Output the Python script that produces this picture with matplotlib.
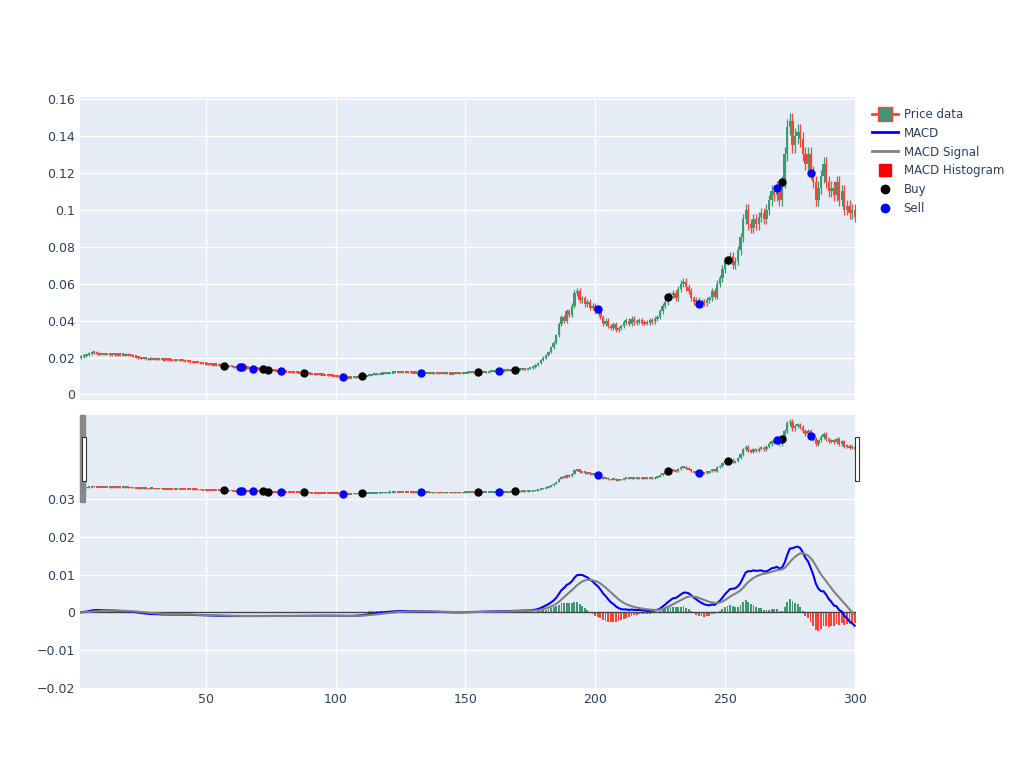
import numpy as np
import pandas as pd
import matplotlib.pyplot as plt
from matplotlib.lines import Line2D

# ---------------- DATA ----------------
close = [
    .0200, .0205, .0210, .0215, .0222, .0230, .0228, .0222, .0218, .0220,
    .0218, .0220, .0216, .0219, .0217, .0215, .0218, .0214, .0216, .0213,
    .0212, .0208, .0203, .0199, .0197, .0198, .0194, .0193, .0195, .0192,
    .0191, .0193, .0190, .0189, .0191, .0188, .0187, .0186, .0188, .0185,
    .0184, .0182, .0180, .0178, .0176, .0175, .0173, .0170, .0168, .0167,
    .0166, .0164, .0161, .0163, .0160, .0158, .0155, .0153, .0154, .0151,
    .0149, .0152, .0148, .0146, .0147, .0144, .0142, .0140, .0141, .0139,
    .0138, .0137, .0136, .0134, .0133, .0131, .0129, .0128, .0127, .0125,
    .0124, .0123, .0121, .0120, .0119, .0118, .0116, .0115, .0114, .0113,
    .0112, .0111, .0110, .0109, .0108, .0106, .0105, .0103, .0102, .0100,
    .0098, .0096, .0094, .0092, .0091, .0093, .0095, .0094, .0096, .0098,
    .0101, .0103, .0106, .0108, .0110, .0112, .0113, .0115, .0116, .0117,
    .0118, .0119, .0120, .0119, .0121, .0120, .0119, .0121, .0120, .0118,
    .0119, .0120, .0118, .0117, .0118, .0116, .0117, .0115, .0116, .0114,
    .0115, .0116, .0114, .0113, .0115, .0114, .0116, .0115, .0117, .0118,
    .0119, .0121, .0120, .0122, .0121, .0123, .0124, .0122, .0125, .0126,
    .0127, .0125, .0128, .0129, .0131, .0130, .0132, .0133, .0135, .0134,
    .0136, .0138, .0137, .0140, .0143, .0150, .0158, .0170, .0185, .0200,
    .0215, .0230, .0255, .0280, .0320, .0380, .0420, .0400, .0450, .0430,
    .0480, .0550, .0560, .0510, .0520, .0490, .0500, .0470, .0480, .0450,
    .0460, .0420, .0380, .0400, .0370, .0360, .0380, .0350, .0360, .0370,
    .0390, .0400, .0380, .0410, .0390, .0395, .0400, .0390, .0385, .0390,
    .0400, .0395, .0410, .0420, .0450, .0480, .0500, .0530, .0540, .0550,
    .0520, .0570, .0600, .0610, .0580, .0560, .0520, .0500, .0510, .0490,
    .0500, .0495, .0510, .0520, .0560, .0530, .0600, .0630, .0680, .0720,
    .0730, .0750, .0700, .0720, .0780, .0850, .0950, .1000, .0920, .0900,
    .0950, .0920, .0960, .0980, .0950, .1000, .1050, .1100, .1080, .1120,
    .1050, .1150, .1300, .1450, .1480, .1350, .1400, .1420, .1380, .1300,
    .1250, .1300, .1200, .1150, .1050, .1120, .1180, .1250, .1150, .1100,
    .1120, .1080, .1150, .1050, .1100, .1000, .1020, .0980, .1000, .0960,
]
buy_idx = [57, 72, 74, 88, 110, 155, 169, 228, 251, 272]
sell_idx = [63, 64, 68, 79, 103, 133, 163, 201, 240, 270, 283]
# --------------------------------------

BG = "#E5ECF6"
UP = "#3D9970"
DOWN = "#FF4136"
TXT = "#2a3f5f"

df = pd.DataFrame({"close": close}, index=np.arange(1, len(close) + 1))
df["open"] = df["close"].shift(1).fillna(df["close"].iloc[0])
ema12 = df["close"].ewm(span=12, adjust=False).mean()
ema26 = df["close"].ewm(span=26, adjust=False).mean()
df["macd"] = ema12 - ema26
df["signal"] = df["macd"].ewm(span=9, adjust=False).mean()
df["hist"] = df["macd"] - df["signal"]


def style(ax):
    ax.set_facecolor(BG)
    for s in ax.spines.values():
        s.set_visible(False)
    ax.grid(True, color="white", linewidth=1)
    ax.set_axisbelow(True)
    ax.tick_params(length=0, labelsize=9, colors=TXT)


def candles(ax, minh):
    up = df["close"] >= df["open"]
    for mask, col in ((up, UP), (~up, DOWN)):
        d = df[mask]
        lo = np.minimum(d["open"], d["close"])
        hi = np.maximum(d["open"], d["close"])
        h = np.maximum(hi - lo, minh)
        mid = (hi + lo) / 2
        ax.vlines(d.index, lo * 0.97, hi * 1.03, color=col, linewidth=0.9)
        ax.bar(d.index, h, bottom=mid - h / 2, width=0.9, color=col, linewidth=0)


fig = plt.figure(figsize=(10.24, 7.68), dpi=100)
ax1 = fig.add_axes([80 / 1024, 1 - 400 / 768, 776 / 1024, 303 / 768])
ax2 = fig.add_axes([80 / 1024, 1 - 688 / 768, 776 / 1024, 273 / 768])
style(ax1)
style(ax2)

# price panel
candles(ax1, 0.0012)
ax1.plot(buy_idx, df.loc[buy_idx, "close"], "o", color="black", ms=5, zorder=5)
ax1.plot(sell_idx, df.loc[sell_idx, "close"], "o", color="blue", ms=5, zorder=5)
ax1.set_xlim(1.5, 300.5)
ax1.set_ylim(-0.003, 0.161)
ax1.set_xticks([50, 100, 150, 200, 250, 300])
ax1.set_xticklabels([])
ax1.set_yticks([0, 0.02, 0.04, 0.06, 0.08, 0.1, 0.12, 0.14, 0.16])
ax1.set_yticklabels(["0", "0.02", "0.04", "0.06", "0.08", "0.1", "0.12", "0.14", "0.16"])

# MACD panel
hcol = np.where(df["hist"] >= 0, UP, DOWN)
ax2.bar(df.index, df["hist"], width=0.7, color=hcol, linewidth=0)
ax2.axhline(0, color="#444444", linewidth=1, zorder=1)
ax2.plot(df.index, df["macd"], color="blue", linewidth=1.5)
ax2.plot(df.index, df["signal"], color="grey", linewidth=1.5)
ax2.set_xlim(1.5, 300.5)
ax2.set_ylim(-0.02, 0.0522)
ax2.set_xticks([50, 100, 150, 200, 250, 300])
ax2.set_yticks([-0.02, -0.01, 0, 0.01, 0.02, 0.03])
ax2.set_yticklabels(["\u22120.02", "\u22120.01", "0", "0.01", "0.02", "0.03"])

# range slider overlay
rs = fig.add_axes([80 / 1024, 1 - 500 / 768, 776 / 1024, 85 / 768])
rs.patch.set_alpha(0)
rs.axis("off")
candles(rs, 0.0035)
rs.plot(buy_idx, df.loc[buy_idx, "close"], "o", color="black", ms=5, zorder=5)
rs.plot(sell_idx, df.loc[sell_idx, "close"], "o", color="blue", ms=5, zorder=5)
rs.set_xlim(1.5, 300.5)
rs.set_ylim(-0.003, 0.161)
fig.patches.append(plt.Rectangle((80 / 1024, 1 - 502 / 768), 5 / 1024, 87 / 768,
                                 transform=fig.transFigure, color="#888888"))
for hx in (82, 855):
    fig.patches.append(plt.Rectangle((hx / 1024, 1 - 481 / 768), 4 / 1024, 44 / 768,
                                     transform=fig.transFigure, facecolor="white",
                                     edgecolor="#333333", linewidth=0.8, zorder=10))

handles = [
    Line2D([0], [0], color=DOWN, marker="s", markerfacecolor=UP, markeredgecolor=DOWN, ms=10, lw=2),
    Line2D([0], [0], color="blue", lw=2),
    Line2D([0], [0], color="grey", lw=2),
    Line2D([0], [0], marker="s", color="red", lw=0, ms=8),
    Line2D([0], [0], marker="o", color="black", lw=0, ms=6),
    Line2D([0], [0], marker="o", color="blue", lw=0, ms=6),
]
labels = ["Price data", "MACD", "MACD Signal", "MACD Histogram", "Buy", "Sell"]
leg = fig.legend(handles, labels, loc="upper left", bbox_to_anchor=(867 / 1024, 1 - 103 / 768),
                 frameon=False, fontsize=8.5, handlelength=2.2, handletextpad=0.5,
                 labelspacing=0.5, borderaxespad=0)
for t in leg.get_texts():
    t.set_color(TXT)

fig.savefig("out.png", dpi=100)
